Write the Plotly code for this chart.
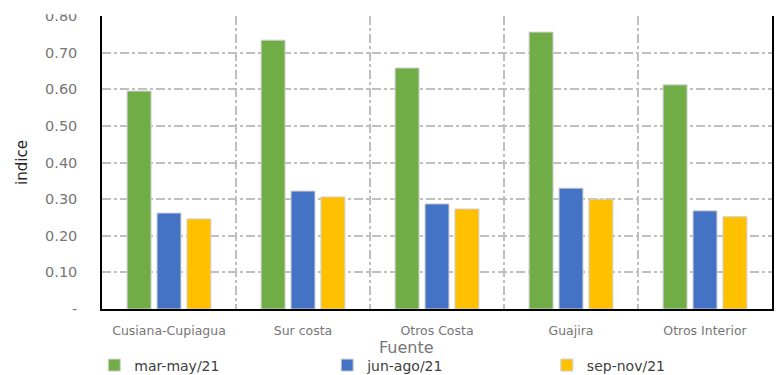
import plotly.graph_objects as go

# Fuentes de gas y el índice por trimestre
fuentes = ["Cusiana-Cupiagua", "Sur costa", "Otros Costa", "Guajira", "Otros Interior"]
periodos = ["mar-may/21", "jun-ago/21", "sep-nov/21"]
mar_may = [0.595, 0.734, 0.658, 0.756, 0.612]
jun_ago = [0.262, 0.322, 0.287, 0.330, 0.268]
sep_nov = [0.246, 0.306, 0.273, 0.300, 0.252]
colores = ["#70AD47", "#4472C4", "#FFC000"]

y_ticks = [0, 0.1, 0.2, 0.3, 0.4, 0.5, 0.6, 0.7, 0.8]
y_labels = ["-", "0.10", "0.20", "0.30", "0.40", "0.50", "0.60", "0.70", "0.80"]

FONT = "DejaVu Sans"
GRID = "#BFBFBF"
TICK = "#767676"

# una leyenda por serie, repartidas a lo ancho bajo el gráfico
legend_ids = ["legend", "legend2", "legend3"]
legend_x = [0.121, 0.42, 0.702]

fig = go.Figure()
for nombre, valores, color, lid in zip(periodos, [mar_may, jun_ago, sep_nov], colores, legend_ids):
    fig.add_trace(go.Bar(
        x=fuentes, y=valores, name=nombre, legend=lid, showlegend=True,
        marker=dict(color=color, line=dict(color="#D0D0D0", width=1)),
    ))

legend_style = dict(
    orientation="h", xanchor="left", xref="container",
    yref="container", y=0.068, yanchor="top",
    font=dict(size=14, color="#404040"),
    itemclick=False, bgcolor="rgba(0,0,0,0)",
)

fig.update_layout(
    width=779, height=375, showlegend=True,
    margin=dict(l=102, r=7, t=16, b=66, autoexpand=False),
    paper_bgcolor="white", plot_bgcolor="white",
    barmode="group", bargap=0.33, bargroupgap=0.2,
    font=dict(family=FONT, color=TICK),
    xaxis=dict(
        type="category", tickson="boundaries", ticks="",
        showgrid=True, gridcolor=GRID, gridwidth=1.5, griddash="dashdot",
        showline=True, linecolor="black", linewidth=1.5,
        tickfont=dict(size=12.5, color=TICK), ticklabelstandoff=9,
    ),
    yaxis=dict(
        range=[0, 0.8], tickvals=y_ticks, ticktext=y_labels, ticks="",
        showgrid=True, gridcolor=GRID, gridwidth=1.5, griddash="dashdot",
        zeroline=False,
        showline=True, linecolor="black", linewidth=1.5, mirror=True,
        tickfont=dict(size=14.5, color=TICK), ticklabelstandoff=20,
        title=dict(text="indice", font=dict(size=15, color="#262626"), standoff=14),
    ),
)
for lid, lx in zip(legend_ids, legend_x):
    fig.update_layout({lid: dict(legend_style, x=lx)})

# título del eje horizontal
fig.add_annotation(text="Fuente", xref="paper", yref="paper", x=0.455, y=-0.13,
                   showarrow=False, font=dict(size=16, color=TICK),
                   xanchor="center", yanchor="middle")

# la cabecera de la figura queda recortada sobre la etiqueta superior
fig.add_shape(type="rect", xref="paper", yref="paper",
              x0=-0.15, x1=-0.02, y0=1.006, y1=1.06,
              fillcolor="white", line=dict(width=0), layer="above")

fig.write_html("out.html")
